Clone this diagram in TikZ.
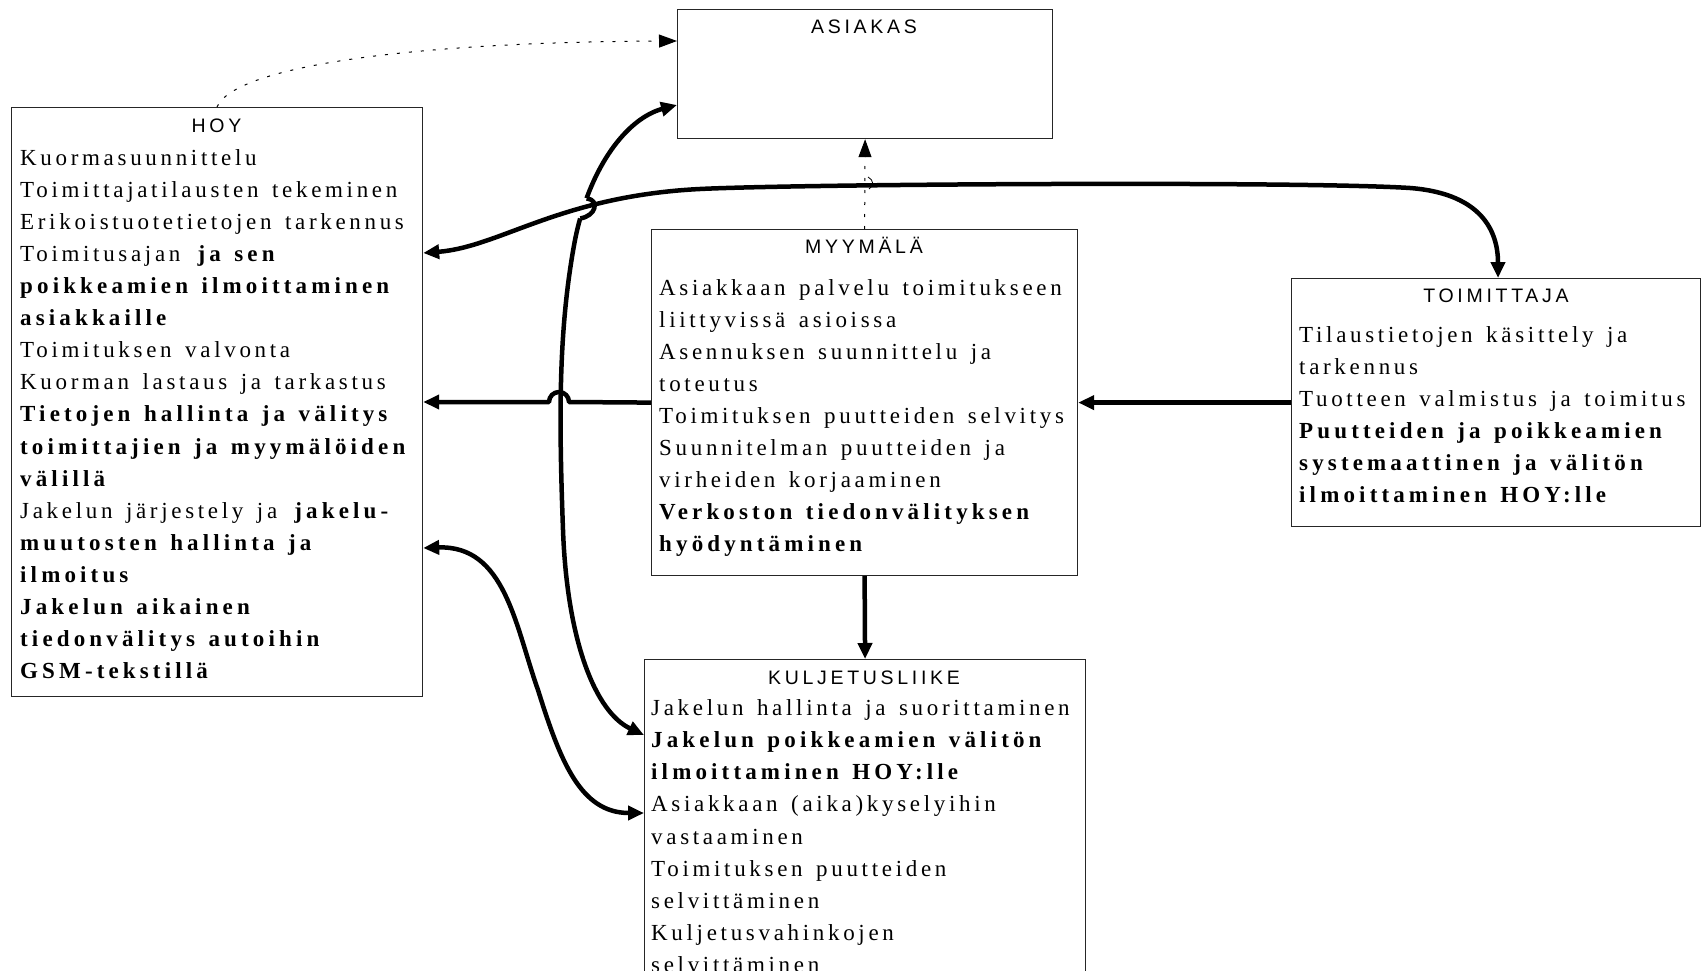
\documentclass[tikz,border=0pt]{standalone}
\usepackage{fontspec}
\setmainfont{Liberation Serif}
\newfontfamily\hdrfont[LetterSpace=19]{Liberation Sans}
\newfontfamily\bodyfont[LetterSpace=16,BoldFeatures={LetterSpace=18}]{Liberation Serif}
\newcommand\wsp{\setlength{\spaceskip}{13.5pt plus 2pt minus 1pt}\strut}
\usetikzlibrary{arrows.meta,calc}
\begin{document}
\begin{tikzpicture}[x=1pt,y=-1pt,
  box/.style={draw=black!85, line width=1.2pt, anchor=north west, inner sep=0pt},
  hdr/.style={font=\hdrfont\fontsize{19.5}{23}\selectfont, anchor=base, inner sep=0pt},
  body/.style={font=\bodyfont\fontsize{23}{32.1}\selectfont, anchor=north west, inner sep=0pt, align=left, text width=460pt},
  tip/.tip={Triangle[length=16pt,width=14pt]},
  conn/.style={line width=4.5pt, line join=round},
  dots/.style={line width=1pt, dash pattern=on 3pt off 9pt, -{Triangle[length=18pt,width=13pt]}}
]
\useasboundingbox (0,0) rectangle (1702,971);
\clip (0,0) rectangle (1702,971);
\fill[white] (0,0) rectangle (1702,971);

% boxes
\node[box, minimum width=375pt, minimum height=129pt] (asiakas) at (677,9) {};
\node[box, minimum width=411pt, minimum height=589pt] (hoy) at (11,107) {};
\node[box, minimum width=426pt, minimum height=346pt] (myy) at (651,229) {};
\node[box, minimum width=409pt, minimum height=248pt] (toim) at (1291,278) {};
\node[box, minimum width=441pt, minimum height=340pt] (kulj) at (644,659) {};

% headers
\node[hdr] (asiakasH) at (864,34) {ASIAKAS};
\node[hdr] (hoyH) at (216.5,133) {HOY};
\node[hdr] (myyH) at (864,253) {MYYMÄLÄ};
\node[hdr] (toimH) at (1496,302) {TOIMITTAJA};
\node[hdr] (kuljH) at (864,684) {KULJETUSLIIKE};

% texts
\node[body] (hoyT) at (20,142.5) {\wsp Kuormasuunnittelu\\
Toimittajatilausten tekeminen\\
Erikoistuotetietojen tarkennus\\
Toimitusajan \textbf{ja sen}\\
\textbf{poikkeamien ilmoittaminen}\\
\textbf{asiakkaille}\\
Toimituksen valvonta\\
Kuorman lastaus ja tarkastus\\
\textbf{Tietojen hallinta ja välitys}\\
\textbf{toimittajien ja myymälöiden}\\
\textbf{välillä}\\
Jakelun järjestely ja \textbf{jakelu-}\\
\textbf{muutosten hallinta ja}\\
\textbf{ilmoitus}\\
\textbf{Jakelun aikainen}\\
\textbf{tiedonvälitys autoihin}\\
\textbf{GSM-tekstillä}};

\node[body] (myyT) at (659,272.5) {\wsp Asiakkaan palvelu toimitukseen\\
liittyvissä asioissa\\
Asennuksen suunnittelu ja\\
toteutus\\
Toimituksen puutteiden selvitys\\
Suunnitelman puutteiden ja\\
virheiden korjaaminen\\
\textbf{Verkoston tiedonvälityksen}\\
\textbf{hyödyntäminen}};

\node[body] (toimT) at (1299,319.5) {\wsp Tilaustietojen käsittely ja\\
tarkennus\\
Tuotteen valmistus ja toimitus\\
\textbf{Puutteiden ja poikkeamien}\\
\textbf{systemaattinen ja välitön}\\
\textbf{ilmoittaminen HOY:lle}};

\node[body] (kuljT) at (651,693) {\wsp Jakelun hallinta ja suorittaminen\\
\textbf{Jakelun poikkeamien välitön}\\
\textbf{ilmoittaminen HOY:lle}\\
Asiakkaan (aika)kyselyihin\\
vastaaminen\\
Toimituksen puutteiden\\
selvittäminen\\
Kuljetusvahinkojen\\
selvittäminen};

% dotted connectors
\draw[dots] ($(hoy.north west)+(206,0)$) .. controls (235,65) and (420,42) .. ($(asiakas.north west)+(0,32)$);
\draw[dots] (myy.north) -- (asiakas.south);

% straight connectors
\draw[conn, -tip] (toim.west) -- (myy.east);
\draw[conn, -tip] (myy.south) -- (kulj.north);
\draw[conn, -tip] (myy.west) -- (569,402) arc[start angle=0, end angle=180, radius=10pt] -- ($(hoy.north east)+(0,295)$);

% curved connectors
\draw[conn, tip-tip] ($(kulj.north west)+(0,76)$) .. controls (595,712) and (567,640) .. (563,530)
  .. controls (559,420) and (558,330) .. (575,240)
  .. controls (590,165) and (628,118) .. ($(asiakas.north west)+(0,96)$);
% hop of that curve over the long curve
\draw[white, line width=7pt] (580.3,218.4) -- (586.7,198.4);
\draw[conn] (580.3,218.4) .. controls (596,216) and (600,200) .. (586.7,198.4);
\draw[conn, tip-tip] ($(hoy.north east)+(0,146)$) .. controls (500,247) and (560,196) .. (700,189)
  .. controls (800,184) and (1300,181) .. (1410,188)
  .. controls (1475,193) and (1498,225) .. ($(toim.north west)+(207,0)$);
\draw[line width=0.8pt] (868,177) .. controls (874,180) and (874,186) .. (869,189);
\draw[conn, tip-tip] ($(hoy.north east)+(0,441)$) .. controls (505,545) and (515,625) .. (538,690)
  .. controls (560,760) and (580,813) .. ($(kulj.north west)+(0,154)$);
\end{tikzpicture}
\end{document}
